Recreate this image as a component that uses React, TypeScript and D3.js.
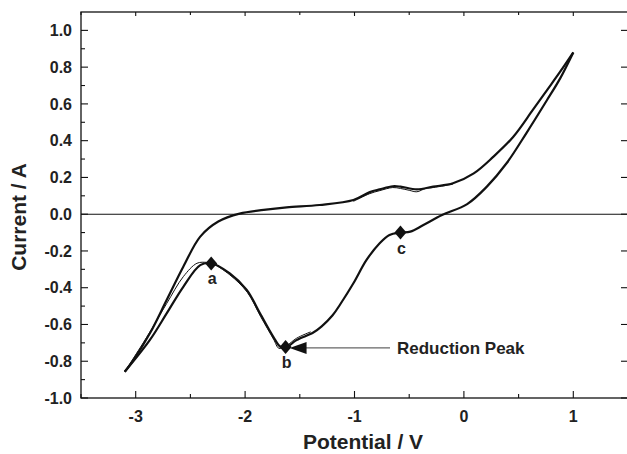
import React, { useEffect, useRef } from 'react';
import * as d3 from 'd3';

// upper branch, swept from +1.0 V down to -3.1 V (potential V, current A)
const upperPotential = [1.0, 0.88, 0.76, 0.63, 0.45, 0.27, 0.09, -0.1, -0.28, -0.43, -0.58, -0.65, -0.77, -0.86, -1.01, -1.32, -1.62, -1.83, -2.05, -2.245, -2.41, -2.565, -2.717, -2.87, -3.02, -3.1];
const upperCurrent = [0.88, 0.775, 0.675, 0.567, 0.42, 0.313, 0.222, 0.168, 0.15, 0.135, 0.15, 0.152, 0.135, 0.12, 0.077, 0.05, 0.037, 0.023, 0.003, -0.04, -0.122, -0.286, -0.467, -0.648, -0.793, -0.857];

// lower (return) branch, -3.1 V back up to +1.0 V
const lowerPotential = [-3.1, -2.87, -2.717, -2.565, -2.41, -2.31, -2.14, -1.985, -1.864, -1.742, -1.68, -1.626, -1.53, -1.38, -1.3, -1.2, -1.13, -1.01, -0.89, -0.77, -0.68, -0.58, -0.49, -0.37, -0.2, 0.03, 0.21, 0.39, 0.57, 0.76, 0.88, 1.0];
const lowerCurrent = [-0.857, -0.684, -0.54, -0.395, -0.277, -0.267, -0.322, -0.412, -0.539, -0.667, -0.72, -0.725, -0.685, -0.645, -0.61, -0.55, -0.49, -0.376, -0.249, -0.158, -0.113, -0.1, -0.095, -0.059, -0.005, 0.055, 0.15, 0.277, 0.44, 0.621, 0.739, 0.88];

// thinner trace of another cycle that splits off near peak a
const cycle2Potential = [-3.1, -2.9, -2.717, -2.565, -2.44, -2.35, -2.31, -2.14, -1.98, -1.86, -1.74, -1.69, -1.62, -1.53, -1.4];
const cycle2Current = [-0.857, -0.67, -0.486, -0.34, -0.267, -0.262, -0.265, -0.33, -0.425, -0.555, -0.68, -0.73, -0.715, -0.675, -0.64];

// second trace on the anodic bump
const cycle3Potential = [-1.01, -0.86, -0.77, -0.65, -0.58, -0.5, -0.43, -0.35, -0.28, -0.1];
const cycle3Current = [0.07, 0.112, 0.128, 0.145, 0.14, 0.13, 0.122, 0.14, 0.145, 0.163];

const markerLabels = ['a', 'b', 'c'];
const markerPotential = [-2.31, -1.63, -0.58];
const markerCurrent = [-0.268, -0.722, -0.1];

const xTicks = [-3, -2, -1, 0, 1];
const yTicks = [1.0, 0.8, 0.6, 0.4, 0.2, 0.0, -0.2, -0.4, -0.6, -0.8, -1.0];

const App = () => {
  const ref = useRef<SVGSVGElement | null>(null);

  useEffect(() => {
    document.body.style.margin = '0';
    const W = 627;
    const H = 454;
    const left = 81, right = 628, top = 12, bottom = 398;
    const font = '"Liberation Sans", Arial, sans-serif';

    const x = d3.scaleLinear().domain([-3.5, 1.5]).range([left, right]);
    const y = d3.scaleLinear().domain([-1.0, 1.1]).range([bottom, top]);

    const svg = d3.select(ref.current);
    svg.selectAll('*').remove();
    svg.attr('width', W).attr('height', H).style('background', '#fff');

    // frame
    svg.append('rect')
      .attr('x', left).attr('y', top)
      .attr('width', right - left).attr('height', bottom - top)
      .attr('fill', 'none').attr('stroke', '#111').attr('stroke-width', 1.3);

    // ticks, pointing inward
    const yMinor = d3.range(-0.9, 1.1, 0.2);
    const g = svg.append('g').attr('stroke', '#111').attr('stroke-width', 1.1);
    yTicks.forEach(v => {
      g.append('line').attr('x1', left).attr('x2', left + 7).attr('y1', y(v)).attr('y2', y(v));
      g.append('line').attr('x1', right).attr('x2', right - 7).attr('y1', y(v)).attr('y2', y(v));
    });
    yMinor.forEach(v => {
      g.append('line').attr('x1', left).attr('x2', left + 4).attr('y1', y(v)).attr('y2', y(v));
    });
    const xMinor = d3.range(-3.5, 1.6, 1);
    xTicks.forEach(v => {
      g.append('line').attr('x1', x(v)).attr('x2', x(v)).attr('y1', bottom).attr('y2', bottom - 7);
      g.append('line').attr('x1', x(v)).attr('x2', x(v)).attr('y1', top).attr('y2', top + 4);
    });
    xMinor.forEach(v => {
      g.append('line').attr('x1', x(v)).attr('x2', x(v)).attr('y1', bottom).attr('y2', bottom - 4);
      g.append('line').attr('x1', x(v)).attr('x2', x(v)).attr('y1', top).attr('y2', top + 3);
    });

    // tick labels
    svg.append('g').selectAll('text').data(yTicks).enter().append('text')
      .attr('x', left - 9).attr('y', d => y(d)).attr('dy', '0.36em')
      .attr('text-anchor', 'end')
      .style('font-family', font).style('font-weight', 'bold').style('font-size', '16px')
      .attr('fill', '#222')
      .text(d => d3.format('.1f')(d).replace('−', '-'));

    svg.append('g').selectAll('text').data(xTicks).enter().append('text')
      .attr('x', d => x(d)).attr('y', bottom + 24)
      .attr('text-anchor', 'middle')
      .style('font-family', font).style('font-weight', 'bold').style('font-size', '16px')
      .attr('fill', '#222')
      .text(d => String(d));

    // axis titles
    svg.append('text')
      .attr('x', 363).attr('y', 449)
      .attr('text-anchor', 'middle')
      .style('font-family', font).style('font-weight', 'bold').style('font-size', '21px')
      .attr('fill', '#222')
      .text('Potential / V');

    svg.append('text')
      .attr('transform', 'rotate(-90)')
      .attr('x', -217).attr('y', 26)
      .attr('text-anchor', 'middle')
      .style('font-family', font).style('font-weight', 'bold').style('font-size', '21px')
      .attr('fill', '#222')
      .text('Current / A');

    // zero line
    svg.append('line')
      .attr('x1', left).attr('x2', right).attr('y1', y(0)).attr('y2', y(0))
      .attr('stroke', '#111').attr('stroke-width', 1.1);

    const line = d3.line<number>()
      .curve(d3.curveCatmullRom.alpha(0.5));

    const draw = (px: number[], py: number[], w: number) => {
      svg.append('path')
        .attr('d', line.x(i => x(px[i])).y(i => y(py[i]))(d3.range(px.length)))
        .attr('fill', 'none').attr('stroke', '#111').attr('stroke-width', w)
        .attr('stroke-linejoin', 'round');
    };
    draw(upperPotential, upperCurrent, 2.2);
    draw(lowerPotential, lowerCurrent, 2.2);
    draw(cycle2Potential, cycle2Current, 1);
    draw(cycle3Potential, cycle3Current, 1);

    // diamond markers and letters
    markerLabels.forEach((lab, i) => {
      const cx = x(markerPotential[i]);
      const cy = y(markerCurrent[i]);
      svg.append('path')
        .attr('d', `M${cx},${cy - 7}L${cx + 6},${cy}L${cx},${cy + 7}L${cx - 6},${cy}Z`)
        .attr('fill', '#111');
      svg.append('text')
        .attr('x', cx + 1).attr('y', cy + 21)
        .attr('text-anchor', 'middle')
        .style('font-family', font).style('font-weight', 'bold').style('font-size', '16px')
        .attr('fill', '#222')
        .text(lab);
    });

    // annotation arrow to peak b
    const bx = x(markerPotential[1]);
    const by = y(markerCurrent[1]);
    svg.append('line')
      .attr('x1', bx + 18).attr('x2', 390).attr('y1', by + 1).attr('y2', by + 1)
      .attr('stroke', '#666').attr('stroke-width', 1.2);
    svg.append('path')
      .attr('d', `M${bx + 4},${by + 1}L${bx + 21},${by - 5}L${bx + 21},${by + 7}Z`)
      .attr('fill', '#111');
    svg.append('text')
      .attr('x', 397).attr('y', by + 7)
      .style('font-family', font).style('font-weight', 'bold').style('font-size', '17px')
      .attr('fill', '#222')
      .text('Reduction Peak');
  }, []);

  return <svg ref={ref} />;
};

export default App;
